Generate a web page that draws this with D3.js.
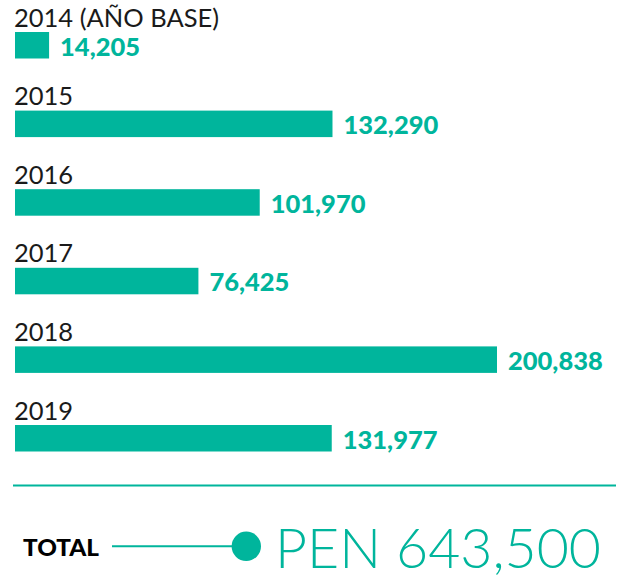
<!DOCTYPE html>
<html>
<head>
<meta charset="utf-8">
<script src="https://cdn.jsdelivr.net/npm/d3@7"></script>
<style>
  html, body { margin: 0; padding: 0; background: #fff; }
  svg { display: block; }
</style>
</head>
<body>
<svg id="chart" width="627" height="584"></svg>
<script>
const categories = ["2014 (AÑO BASE)", "2015", "2016", "2017", "2018", "2019"];
const values = [14205, 132290, 101970, 76425, 200838, 131977];
const totalLabel = "TOTAL";
const totalValue = "PEN 643,500";

const teal = "#00B59C";
const svg = d3.select("#chart");

const x = d3.scaleLinear().domain([0, d3.max(values)]).range([15, 497]);
const y = d3.scaleBand().domain(categories).range([32, 32 + 6 * 78.6]).padding(0);
const barH = 26.5;

const fmt = d3.format(",");

const rows = svg.selectAll("g.row").data(categories).enter().append("g").attr("class", "row");

rows.append("rect")
  .attr("x", x(0))
  .attr("y", d => y(d))
  .attr("width", (d, i) => x(values[i]) - x(0))
  .attr("height", barH)
  .attr("fill", teal);

rows.append("text")
  .attr("x", 14)
  .attr("y", d => y(d) - 5.5)
  .attr("font-family", "Lato")
  .attr("font-weight", 400)
  .attr("font-size", 25.5)
  .attr("fill", "#1a1a1a")
  .text(d => d);

rows.append("text")
  .attr("x", (d, i) => x(values[i]) + 11)
  .attr("y", d => y(d) + 23.5)
  .attr("font-family", "Lato")
  .attr("font-weight", 900)
  .attr("font-size", 25.5)
  .attr("fill", teal)
  .text((d, i) => fmt(values[i]));

// divider
svg.append("line")
  .attr("x1", 13).attr("x2", 616)
  .attr("y1", 485.5).attr("y2", 485.5)
  .attr("stroke", teal).attr("stroke-width", 2.2);

// total row
svg.append("text")
  .attr("x", 23).attr("y", 555.5)
  .attr("font-family", "Lato").attr("font-weight", 900)
  .attr("font-size", 23).attr("fill", "#000")
  .attr("textLength", 76).attr("lengthAdjust", "spacingAndGlyphs")
  .text(totalLabel);

svg.append("line")
  .attr("x1", 112).attr("x2", 240)
  .attr("y1", 546.3).attr("y2", 546.3)
  .attr("stroke", teal).attr("stroke-width", 2);

svg.append("circle")
  .attr("cx", 246.3).attr("cy", 546.3).attr("r", 14.7)
  .attr("fill", teal);

svg.append("text")
  .attr("x", 275).attr("y", 568.3)
  .attr("font-family", "Lato").attr("font-weight", 300)
  .attr("font-size", 56).attr("fill", teal)
  .attr("textLength", 326).attr("lengthAdjust", "spacingAndGlyphs")
  .text(totalValue);
</script>
</body>
</html>
